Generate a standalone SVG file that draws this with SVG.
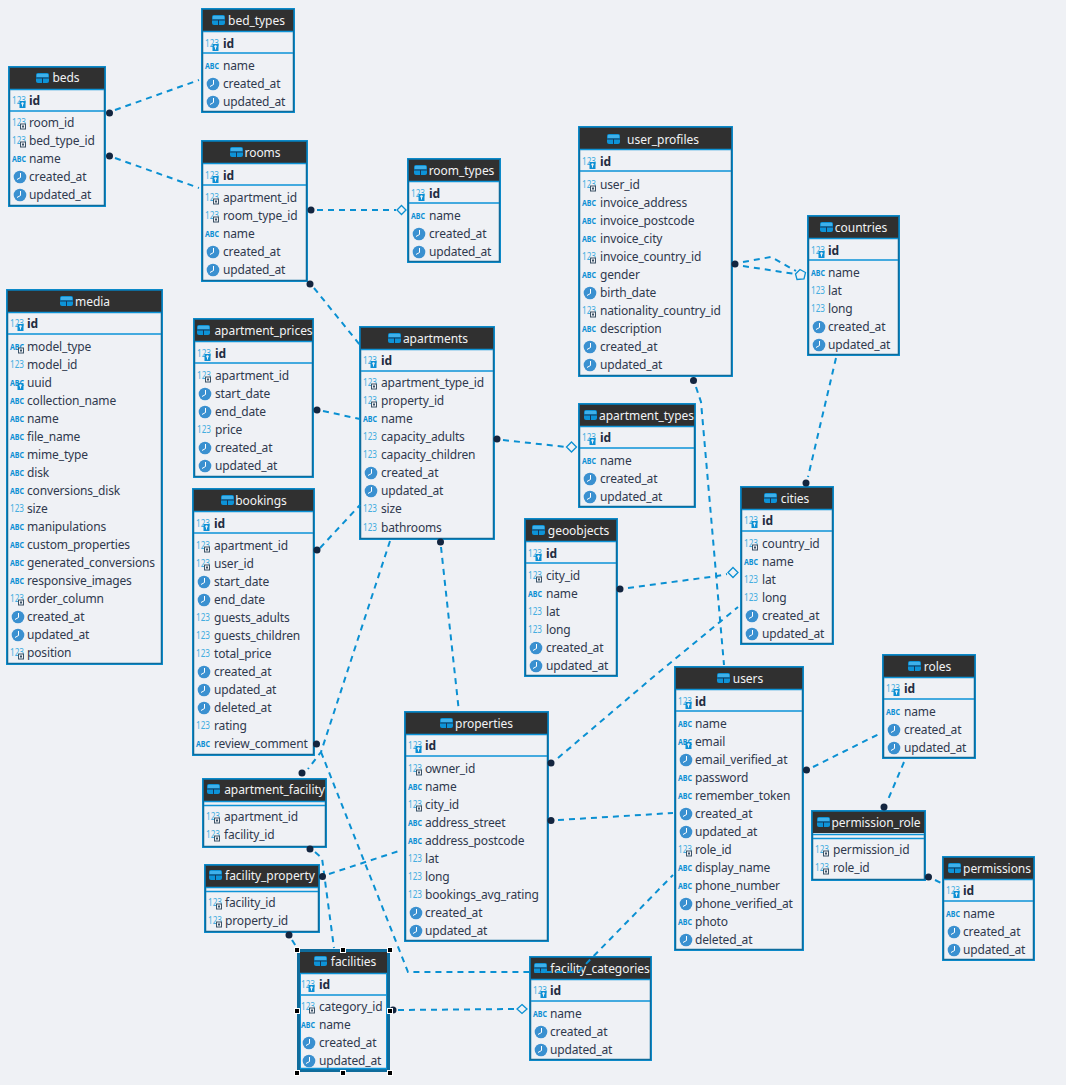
<svg xmlns="http://www.w3.org/2000/svg" width="1066" height="1085" viewBox="0 0 1066 1085">
<style>
text{font-family:"Noto Sans","Open Sans","DejaVu Sans",sans-serif;font-size:12px;letter-spacing:-.15px}
.t{fill:#f2f3f5;text-anchor:middle;letter-spacing:-.05px}
.k{fill:#232c40;font-weight:700}
.r{fill:#2f394e}
.o{fill:#eff1f5;stroke:#0d93d7;stroke-width:1}
.b{fill:#eff1f5;stroke:#0f6c9c;stroke-width:1.5}
.h{fill:#303030}
.s{stroke:#0d93d7;stroke-width:1.5;fill:none}
.o,.b,.h,.s,.q{transform:translate(-1px,-1px)}
.n{fill:#44ade0;font-size:11px;letter-spacing:0}
.a{fill:#0d8fd4;font-size:9.5px;font-weight:700;letter-spacing:0}
.c{fill:none;stroke:#0a90d2;stroke-width:2;stroke-dasharray:6 5}
.d{fill:#13253f}
.m{fill:#eff1f5;stroke:#0a90d2;stroke-width:1.3}
.x{fill:#000;stroke:#fff;stroke-width:1}
</style>
<defs>
<g id="i-tab"><rect width="13" height="10" rx="2" fill="#0d93d7"/><path d="M0 5H13M6.500 5V10" stroke="#17385a" stroke-width="1"/><rect x="1" y="1" width="11" height="3" fill="#3fb0ea"/></g>
<g id="i-n"><text class="n" x="3" y="-1" textLength="14" lengthAdjust="spacingAndGlyphs">123</text></g>
<g id="i-a"><text class="a" x="3" y="-1.500" textLength="14" lengthAdjust="spacingAndGlyphs">ABC</text></g>
<g id="i-t"><circle cx="11" cy="-4" r="6.300" fill="#3a90d0"/><path d="M11.500 -8V-3.500L8 -1.500" stroke="#fff" stroke-width="1" fill="none"/></g>
<g id="fkb"><rect x="11.500" y="-3" width="5" height="5" fill="#eff1f5" stroke="#3c5266" stroke-width="1"/><rect x="13" y="-1.500" width="2" height="2" fill="#3c5266"/></g>
<g id="kb"><rect x="10.500" y="-4" width="6" height="7" fill="#0d8fd4"/><circle cx="13.500" cy="-1.500" r="1.200" fill="#eff1f5"/><path d="M13.500 -1V1.500" stroke="#eff1f5"/></g>
<g id="i-f"><use href="#i-n"/><use href="#fkb"/></g>
<g id="i-k"><use href="#i-n"/><use href="#kb"/></g>
<g id="i-af"><use href="#i-a"/><use href="#fkb"/></g>
<g id="i-ak"><use href="#i-a"/><use href="#kb"/></g>
</defs>
<rect width="1066" height="1085" fill="#eff1f5"/>

<g id="bed_types" transform="translate(202,9)"><rect class="o" x=".5" y=".5" width="93" height="104"/><rect class="b" x="1.500" y="1.500" width="91" height="102"/><rect class="h" x="2" y="2" width="90" height="21"/><path class="s" d="M2 23.500H92M2 45H92"/><use href="#i-tab" x="10" y="6"/><text class="t" x="54.500" y="16">bed_types</text><use href="#i-k" y="39"/><text class="k" x="21" y="39">id</text>
<use href="#i-a" y="61"/><text class="r" x="21" y="61">name</text><use href="#i-t" y="79"/><text class="r" x="21" y="79">created_at</text><use href="#i-t" y="97"/><text class="r" x="21" y="97">updated_at</text></g>

<g id="beds" transform="translate(9,67)"><rect class="o" x=".5" y=".5" width="97" height="140"/><rect class="b" x="1.500" y="1.500" width="95" height="138"/><rect class="h" x="2" y="2" width="94" height="21"/><path class="s" d="M2 23.500H96M2 45H96"/><use href="#i-tab" x="27" y="6"/><text class="t" x="57" y="15">beds</text><use href="#i-k" y="38"/><text class="k" x="20" y="38">id</text>
<use href="#i-f" y="60"/><text class="r" x="20" y="60">room_id</text><use href="#i-f" y="78"/><text class="r" x="20" y="78">bed_type_id</text><use href="#i-a" y="96"/><text class="r" x="20" y="96">name</text><use href="#i-t" y="114"/><text class="r" x="20" y="114">created_at</text><use href="#i-t" y="132"/><text class="r" x="20" y="132">updated_at</text></g>

<g id="rooms" transform="translate(202,141)"><rect class="o" x=".5" y=".5" width="106" height="141"/><rect class="b" x="1.500" y="1.500" width="104" height="139"/><rect class="h" x="2" y="2" width="103" height="21"/><path class="s" d="M2 23.500H105M2 45H105"/><use href="#i-tab" x="28" y="6"/><text class="t" x="60.500" y="16">rooms</text><use href="#i-k" y="39"/><text class="k" x="21" y="39">id</text>
<use href="#i-f" y="61"/><text class="r" x="21" y="61">apartment_id</text><use href="#i-f" y="79"/><text class="r" x="21" y="79">room_type_id</text><use href="#i-a" y="97"/><text class="r" x="21" y="97">name</text><use href="#i-t" y="115"/><text class="r" x="21" y="115">created_at</text><use href="#i-t" y="133"/><text class="r" x="21" y="133">updated_at</text></g>

<g id="room_types" transform="translate(408,159)"><rect class="o" x=".5" y=".5" width="93" height="104"/><rect class="b" x="1.500" y="1.500" width="91" height="102"/><rect class="h" x="2" y="2" width="90" height="21"/><path class="s" d="M2 23.500H92M2 45H92"/><use href="#i-tab" x="6" y="6"/><text class="t" x="53.500" y="16">room_types</text><use href="#i-k" y="39"/><text class="k" x="21" y="39">id</text>
<use href="#i-a" y="61"/><text class="r" x="21" y="61">name</text><use href="#i-t" y="79"/><text class="r" x="21" y="79">created_at</text><use href="#i-t" y="97"/><text class="r" x="21" y="97">updated_at</text></g>

<g id="user_profiles" transform="translate(579,127)"><rect class="o" x=".5" y=".5" width="154" height="250"/><rect class="b" x="1.500" y="1.500" width="152" height="248"/><rect class="h" x="2" y="2" width="151" height="21"/><path class="s" d="M2 23.500H153M2 45H153"/><use href="#i-tab" x="28" y="7"/><text class="t" x="84" y="17">user_profiles</text><use href="#i-k" y="39"/><text class="k" x="21" y="39">id</text>
<use href="#i-f" y="62"/><text class="r" x="21" y="62">user_id</text><use href="#i-a" y="80"/><text class="r" x="21" y="80">invoice_address</text><use href="#i-a" y="98"/><text class="r" x="21" y="98">invoice_postcode</text><use href="#i-a" y="116"/><text class="r" x="21" y="116">invoice_city</text><use href="#i-f" y="134"/><text class="r" x="21" y="134">invoice_country_id</text><use href="#i-a" y="152"/><text class="r" x="21" y="152">gender</text><use href="#i-t" y="170"/><text class="r" x="21" y="170">birth_date</text><use href="#i-f" y="188"/><text class="r" x="21" y="188">nationality_country_id</text><use href="#i-a" y="206"/><text class="r" x="21" y="206">description</text><use href="#i-t" y="224"/><text class="r" x="21" y="224">created_at</text><use href="#i-t" y="242"/><text class="r" x="21" y="242">updated_at</text></g>

<g id="countries" transform="translate(808,216)"><rect class="o" x=".5" y=".5" width="92" height="140"/><rect class="b" x="1.500" y="1.500" width="90" height="138"/><rect class="h" x="2" y="2" width="89" height="21"/><path class="s" d="M2 23.500H91M2 45H91"/><use href="#i-tab" x="12" y="6"/><text class="t" x="53" y="16">countries</text><use href="#i-k" y="39"/><text class="k" x="20" y="39">id</text>
<use href="#i-a" y="61"/><text class="r" x="20" y="61">name</text><use href="#i-n" y="79"/><text class="r" x="20" y="79">lat</text><use href="#i-n" y="97"/><text class="r" x="20" y="97">long</text><use href="#i-t" y="115"/><text class="r" x="20" y="115">created_at</text><use href="#i-t" y="133"/><text class="r" x="20" y="133">updated_at</text></g>

<g id="media" transform="translate(7,290)"><rect class="o" x=".5" y=".5" width="156" height="375"/><rect class="b" x="1.500" y="1.500" width="154" height="373"/><rect class="h" x="2" y="2" width="153" height="21"/><path class="s" d="M2 23.500H155M2 45H155"/><use href="#i-tab" x="53" y="6"/><text class="t" x="85.500" y="16">media</text><use href="#i-k" y="38"/><text class="k" x="20" y="38">id</text>
<use href="#i-af" y="61"/><text class="r" x="20" y="61">model_type</text><use href="#i-n" y="79"/><text class="r" x="20" y="79">model_id</text><use href="#i-ak" y="97"/><text class="r" x="20" y="97">uuid</text><use href="#i-a" y="115"/><text class="r" x="20" y="115">collection_name</text><use href="#i-a" y="133"/><text class="r" x="20" y="133">name</text><use href="#i-a" y="151"/><text class="r" x="20" y="151">file_name</text><use href="#i-a" y="169"/><text class="r" x="20" y="169">mime_type</text><use href="#i-a" y="187"/><text class="r" x="20" y="187">disk</text><use href="#i-a" y="205"/><text class="r" x="20" y="205">conversions_disk</text><use href="#i-n" y="223"/><text class="r" x="20" y="223">size</text><use href="#i-a" y="241"/><text class="r" x="20" y="241">manipulations</text><use href="#i-a" y="259"/><text class="r" x="20" y="259">custom_properties</text><use href="#i-a" y="277"/><text class="r" x="20" y="277">generated_conversions</text><use href="#i-a" y="295"/><text class="r" x="20" y="295">responsive_images</text><use href="#i-f" y="313"/><text class="r" x="20" y="313">order_column</text><use href="#i-t" y="331"/><text class="r" x="20" y="331">created_at</text><use href="#i-t" y="349"/><text class="r" x="20" y="349">updated_at</text><use href="#i-f" y="367"/><text class="r" x="20" y="367">position</text></g>

<g id="apartment_prices" transform="translate(194,319)"><rect class="o" x=".5" y=".5" width="120" height="159"/><rect class="b" x="1.500" y="1.500" width="118" height="157"/><rect class="h" x="2" y="2" width="117" height="21"/><path class="s" d="M2 23.500H119M2 45H119"/><use href="#i-tab" x="3" y="6"/><text class="t" x="69.500" y="16">apartment_prices</text><use href="#i-k" y="39"/><text class="k" x="21" y="39">id</text>
<use href="#i-f" y="61"/><text class="r" x="21" y="61">apartment_id</text><use href="#i-t" y="79"/><text class="r" x="21" y="79">start_date</text><use href="#i-t" y="97"/><text class="r" x="21" y="97">end_date</text><use href="#i-n" y="115"/><text class="r" x="21" y="115">price</text><use href="#i-t" y="133"/><text class="r" x="21" y="133">created_at</text><use href="#i-t" y="151"/><text class="r" x="21" y="151">updated_at</text></g>

<g id="apartments" transform="translate(360,327)"><rect class="o" x=".5" y=".5" width="135" height="213"/><rect class="b" x="1.500" y="1.500" width="133" height="211"/><rect class="h" x="2" y="2" width="132" height="21"/><path class="s" d="M2 23.500H134M2 45H134"/><use href="#i-tab" x="28" y="6"/><text class="t" x="75.500" y="16">apartments</text><use href="#i-k" y="38"/><text class="k" x="21" y="38">id</text>
<use href="#i-f" y="60"/><text class="r" x="21" y="60">apartment_type_id</text><use href="#i-f" y="78"/><text class="r" x="21" y="78">property_id</text><use href="#i-a" y="96"/><text class="r" x="21" y="96">name</text><use href="#i-n" y="114"/><text class="r" x="21" y="114">capacity_adults</text><use href="#i-n" y="132"/><text class="r" x="21" y="132">capacity_children</text><use href="#i-t" y="150"/><text class="r" x="21" y="150">created_at</text><use href="#i-t" y="168"/><text class="r" x="21" y="168">updated_at</text><use href="#i-n" y="186"/><text class="r" x="21" y="186">size</text><use href="#i-n" y="205"/><text class="r" x="21" y="205">bathrooms</text></g>

<g id="apartment_types" transform="translate(579,404)"><rect class="o" x=".5" y=".5" width="117" height="104"/><rect class="b" x="1.500" y="1.500" width="115" height="102"/><rect class="h" x="2" y="2" width="114" height="21"/><path class="s" d="M2 23.500H116M2 45H116"/><use href="#i-tab" x="5" y="6"/><text class="t" x="67.500" y="16">apartment_types</text><use href="#i-k" y="38"/><text class="k" x="21" y="38">id</text>
<use href="#i-a" y="61"/><text class="r" x="21" y="61">name</text><use href="#i-t" y="79"/><text class="r" x="21" y="79">created_at</text><use href="#i-t" y="97"/><text class="r" x="21" y="97">updated_at</text></g>

<g id="bookings" transform="translate(193,489)"><rect class="o" x=".5" y=".5" width="122" height="267"/><rect class="b" x="1.500" y="1.500" width="120" height="265"/><rect class="h" x="2" y="2" width="119" height="21"/><path class="s" d="M2 23.500H121M2 45H121"/><use href="#i-tab" x="28" y="6"/><text class="t" x="68" y="16">bookings</text><use href="#i-k" y="39"/><text class="k" x="21" y="39">id</text>
<use href="#i-f" y="61"/><text class="r" x="21" y="61">apartment_id</text><use href="#i-f" y="79"/><text class="r" x="21" y="79">user_id</text><use href="#i-t" y="97"/><text class="r" x="21" y="97">start_date</text><use href="#i-t" y="115"/><text class="r" x="21" y="115">end_date</text><use href="#i-n" y="133"/><text class="r" x="21" y="133">guests_adults</text><use href="#i-n" y="151"/><text class="r" x="21" y="151">guests_children</text><use href="#i-n" y="169"/><text class="r" x="21" y="169">total_price</text><use href="#i-t" y="187"/><text class="r" x="21" y="187">created_at</text><use href="#i-t" y="205"/><text class="r" x="21" y="205">updated_at</text><use href="#i-t" y="223"/><text class="r" x="21" y="223">deleted_at</text><use href="#i-n" y="241"/><text class="r" x="21" y="241">rating</text><use href="#i-a" y="259"/><text class="r" x="21" y="259">review_comment</text></g>

<g id="cities" transform="translate(741,487)"><rect class="o" x=".5" y=".5" width="93" height="158"/><rect class="b" x="1.500" y="1.500" width="91" height="156"/><rect class="h" x="2" y="2" width="90" height="21"/><path class="s" d="M2 23.500H92M2 45H92"/><use href="#i-tab" x="23" y="6"/><text class="t" x="54" y="16">cities</text><use href="#i-k" y="38"/><text class="k" x="21" y="38">id</text>
<use href="#i-f" y="61"/><text class="r" x="21" y="61">country_id</text><use href="#i-a" y="79"/><text class="r" x="21" y="79">name</text><use href="#i-n" y="97"/><text class="r" x="21" y="97">lat</text><use href="#i-n" y="115"/><text class="r" x="21" y="115">long</text><use href="#i-t" y="133"/><text class="r" x="21" y="133">created_at</text><use href="#i-t" y="151"/><text class="r" x="21" y="151">updated_at</text></g>

<g id="geoobjects" transform="translate(525,519)"><rect class="o" x=".5" y=".5" width="93" height="158"/><rect class="b" x="1.500" y="1.500" width="91" height="156"/><rect class="h" x="2" y="2" width="90" height="21"/><path class="s" d="M2 23.500H92M2 45H92"/><use href="#i-tab" x="7" y="6"/><text class="t" x="53.500" y="16">geoobjects</text><use href="#i-k" y="39"/><text class="k" x="21" y="39">id</text>
<use href="#i-f" y="61"/><text class="r" x="21" y="61">city_id</text><use href="#i-a" y="79"/><text class="r" x="21" y="79">name</text><use href="#i-n" y="97"/><text class="r" x="21" y="97">lat</text><use href="#i-n" y="115"/><text class="r" x="21" y="115">long</text><use href="#i-t" y="133"/><text class="r" x="21" y="133">created_at</text><use href="#i-t" y="151"/><text class="r" x="21" y="151">updated_at</text></g>

<g id="users" transform="translate(675,667)"><rect class="o" x=".5" y=".5" width="129" height="284"/><rect class="b" x="1.500" y="1.500" width="127" height="282"/><rect class="h" x="2" y="2" width="126" height="21"/><path class="s" d="M2 23.500H128M2 45H128"/><use href="#i-tab" x="42" y="6"/><text class="t" x="73" y="16">users</text><use href="#i-k" y="39"/><text class="k" x="20" y="39">id</text>
<use href="#i-a" y="61"/><text class="r" x="20" y="61">name</text><use href="#i-ak" y="79"/><text class="r" x="20" y="79">email</text><use href="#i-t" y="97"/><text class="r" x="20" y="97">email_verified_at</text><use href="#i-a" y="115"/><text class="r" x="20" y="115">password</text><use href="#i-a" y="133"/><text class="r" x="20" y="133">remember_token</text><use href="#i-t" y="151"/><text class="r" x="20" y="151">created_at</text><use href="#i-t" y="169"/><text class="r" x="20" y="169">updated_at</text><use href="#i-f" y="187"/><text class="r" x="20" y="187">role_id</text><use href="#i-a" y="205"/><text class="r" x="20" y="205">display_name</text><use href="#i-a" y="223"/><text class="r" x="20" y="223">phone_number</text><use href="#i-t" y="241"/><text class="r" x="20" y="241">phone_verified_at</text><use href="#i-a" y="259"/><text class="r" x="20" y="259">photo</text><use href="#i-t" y="277"/><text class="r" x="20" y="277">deleted_at</text></g>

<g id="roles" transform="translate(883,655)"><rect class="o" x=".5" y=".5" width="93" height="104"/><rect class="b" x="1.500" y="1.500" width="91" height="102"/><rect class="h" x="2" y="2" width="90" height="21"/><path class="s" d="M2 23.500H92M2 45H92"/><use href="#i-tab" x="25" y="6"/><text class="t" x="54.500" y="16">roles</text><use href="#i-k" y="38"/><text class="k" x="21" y="38">id</text>
<use href="#i-a" y="61"/><text class="r" x="21" y="61">name</text><use href="#i-t" y="79"/><text class="r" x="21" y="79">created_at</text><use href="#i-t" y="97"/><text class="r" x="21" y="97">updated_at</text></g>

<g id="properties" transform="translate(405,712)"><rect class="o" x=".5" y=".5" width="144" height="230"/><rect class="b" x="1.500" y="1.500" width="142" height="228"/><rect class="h" x="2" y="2" width="141" height="21"/><path class="s" d="M2 23.500H143M2 45H143"/><use href="#i-tab" x="35" y="6"/><text class="t" x="79" y="16">properties</text><use href="#i-k" y="38"/><text class="k" x="20" y="38">id</text>
<use href="#i-f" y="61"/><text class="r" x="20" y="61">owner_id</text><use href="#i-a" y="79"/><text class="r" x="20" y="79">name</text><use href="#i-f" y="97"/><text class="r" x="20" y="97">city_id</text><use href="#i-a" y="115"/><text class="r" x="20" y="115">address_street</text><use href="#i-a" y="133"/><text class="r" x="20" y="133">address_postcode</text><use href="#i-n" y="151"/><text class="r" x="20" y="151">lat</text><use href="#i-n" y="169"/><text class="r" x="20" y="169">long</text><use href="#i-n" y="187"/><text class="r" x="20" y="187">bookings_avg_rating</text><use href="#i-t" y="205"/><text class="r" x="20" y="205">created_at</text><use href="#i-t" y="223"/><text class="r" x="20" y="223">updated_at</text></g>

<g id="apartment_facility" transform="translate(203,779)"><rect class="o" x=".5" y=".5" width="124" height="69"/><rect class="b" x="1.500" y="1.500" width="122" height="67"/><rect class="h" x="2" y="2" width="121" height="21"/><path class="s" d="M2 23.500H123M2 27.500H123"/><use href="#i-tab" x="4" y="5"/><text class="t" x="71.500" y="15">apartment_facility</text>
<use href="#i-f" y="42"/><text class="r" x="21" y="42">apartment_id</text><use href="#i-f" y="60"/><text class="r" x="21" y="60">facility_id</text></g>

<g id="facility_property" transform="translate(205,865)"><rect class="o" x=".5" y=".5" width="115" height="68"/><rect class="b" x="1.500" y="1.500" width="113" height="66"/><rect class="h" x="2" y="2" width="112" height="21"/><path class="s" d="M2 23.500H114M2 27.500H114"/><use href="#i-tab" x="4" y="5"/><text class="t" x="65" y="15">facility_property</text>
<use href="#i-f" y="42"/><text class="r" x="20" y="42">facility_id</text><use href="#i-f" y="60"/><text class="r" x="20" y="60">property_id</text></g>

<g id="permission_role" transform="translate(812,811)"><rect class="o" x=".5" y=".5" width="114" height="70"/><rect class="b" x="1.500" y="1.500" width="112" height="68"/><rect class="h" x="2" y="2" width="111" height="21"/><path class="s" d="M2 24.500H113M2 28.500H113"/><use href="#i-tab" x="5" y="6"/><text class="t" x="64" y="16">permission_role</text>
<use href="#i-f" y="43"/><text class="r" x="21" y="43">permission_id</text><use href="#i-f" y="61"/><text class="r" x="21" y="61">role_id</text></g>

<g id="permissions" transform="translate(943,857)"><rect class="o" x=".5" y=".5" width="92" height="104"/><rect class="b" x="1.500" y="1.500" width="90" height="102"/><rect class="h" x="2" y="2" width="89" height="21"/><path class="s" d="M2 23.500H91M2 45H91"/><use href="#i-tab" x="5" y="6"/><text class="t" x="54" y="16">permissions</text><use href="#i-k" y="38"/><text class="k" x="20" y="38">id</text>
<use href="#i-a" y="61"/><text class="r" x="20" y="61">name</text><use href="#i-t" y="79"/><text class="r" x="20" y="79">created_at</text><use href="#i-t" y="97"/><text class="r" x="20" y="97">updated_at</text></g>

<g id="facility_categories" transform="translate(530,957)"><rect class="o" x=".5" y=".5" width="122" height="104"/><rect class="b" x="1.500" y="1.500" width="120" height="102"/><rect class="h" x="2" y="2" width="119" height="21"/><path class="s" d="M2 23.500H121M2 45H121"/><use href="#i-tab" x="4" y="6"/><text class="t" x="70" y="16">facility_categories</text><use href="#i-k" y="38"/><text class="k" x="20" y="38">id</text>
<use href="#i-a" y="61"/><text class="r" x="20" y="61">name</text><use href="#i-t" y="79"/><text class="r" x="20" y="79">created_at</text><use href="#i-t" y="97"/><text class="r" x="20" y="97">updated_at</text></g>

<g id="facilities" transform="translate(298,950)"><rect class="o" x=".5" y=".5" width="92" height="122"/><rect class="q" x="1.500" y="1.500" width="90" height="120" fill="#eff1f5" stroke="#0f6c9c" stroke-width="3"/><rect class="h" x="3" y="3" width="87" height="21"/><path class="s" d="M3 24.500H90M3 46H90M3 119.500H90"/><path class="q" d="M3.500 24V119M89.500 24V119" stroke="#0d93d7" fill="none"/><use href="#i-tab" x="16" y="6"/><text class="t" x="55.500" y="16">facilities</text><use href="#i-k" y="39"/><text class="k" x="21" y="39">id</text>
<use href="#i-f" y="61"/><text class="r" x="21" y="61">category_id</text><use href="#i-a" y="79"/><text class="r" x="21" y="79">name</text><use href="#i-t" y="97"/><text class="r" x="21" y="97">created_at</text><use href="#i-t" y="115"/><text class="r" x="21" y="115">updated_at</text></g>

<g id="connectors">
<path class="c" d="M115 110L199 80"/>
<path class="c" d="M115 158L199 188"/>
<path class="c" d="M317 210H396"/>
<path class="c" d="M314 288L360 345"/>
<path class="c" d="M323 411L360 419"/>
<path class="c" d="M320 548L360 505"/>
<path class="c" d="M503 440L566 447"/>
<path class="c" d="M390 541L321 752L308 769"/>
<path class="c" d="M441 547L459 712"/>
<path class="c" d="M321 752L408 972H578L673 875"/>
<path class="c" d="M315 852L322 858L334 948"/>
<path class="c" d="M292 940L297 948"/>
<path class="c" d="M329 874L402 850"/>
<path class="c" d="M398 1010L516 1009"/>
<path class="c" d="M743 262L771 257L796 271"/>
<path class="c" d="M743 266L795 274"/>
<path class="c" d="M696 387L701 402L724 665"/>
<path class="c" d="M836 358L808 477"/>
<path class="c" d="M628 588L717 576L727 574"/>
<path class="c" d="M558 758L652 678L738 607"/>
<path class="c" d="M558 820L673 813"/>
<path class="c" d="M813 767L881 733"/>
<path class="c" d="M904 762L887 802"/>
<path class="c" d="M935 880L941 883"/>
<path class="m" d="M401.500 205.500L406 210L401.500 214.500L397 210Z"/>
<path class="m" d="M571.500 442L576.500 447L571.500 452L566.500 447Z"/>
<path class="m" d="M800 269.500L805.500 272.500L804 279L797 279.500L795.500 274Z"/>
<path class="m" d="M733 567.500L738 572.500L733 577.500L728 572.500Z"/>
<path class="m" d="M522 1004.500L527 1009L522 1013.500L517 1009Z"/>
<circle class="d" cx="109.500" cy="113" r="3.500"/><circle class="d" cx="109.500" cy="156" r="3.500"/><circle class="d" cx="311" cy="210" r="3.500"/><circle class="d" cx="310" cy="284" r="3.500"/><circle class="d" cx="317" cy="410" r="3.500"/><circle class="d" cx="317" cy="550" r="3.500"/><circle class="d" cx="497" cy="439" r="3.500"/><circle class="d" cx="302" cy="773" r="3.500"/><circle class="d" cx="440.500" cy="542" r="3.500"/><circle class="d" cx="316.500" cy="744" r="3.500"/><circle class="d" cx="310" cy="849" r="3.500"/><circle class="d" cx="289" cy="935" r="3.500"/><circle class="d" cx="322.500" cy="876.500" r="3.500"/><circle class="d" cx="393" cy="1010" r="3.500"/><circle class="d" cx="735" cy="264" r="3.500"/><circle class="d" cx="693.500" cy="380.500" r="3.500"/><circle class="d" cx="806" cy="483" r="3.500"/><circle class="d" cx="620" cy="589" r="3.500"/><circle class="d" cx="551" cy="763" r="3.500"/><circle class="d" cx="551" cy="820.500" r="3.500"/><circle class="d" cx="806.500" cy="770" r="3.500"/><circle class="d" cx="884" cy="807" r="3.500"/><circle class="d" cx="928.500" cy="877" r="3.500"/>
</g>
<g id="selection-handles">
<rect class="x" x="294.500" y="947.500" width="5" height="5"/><rect class="x" x="340.500" y="947.500" width="5" height="5"/><rect class="x" x="387.500" y="947.500" width="5" height="5"/><rect class="x" x="294.500" y="1008.500" width="5" height="5"/><rect class="x" x="387.500" y="1008.500" width="5" height="5"/><rect class="x" x="294.500" y="1070.500" width="5" height="5"/><rect class="x" x="340.500" y="1070.500" width="5" height="5"/><rect class="x" x="387.500" y="1070.500" width="5" height="5"/>
</g>
</svg>
